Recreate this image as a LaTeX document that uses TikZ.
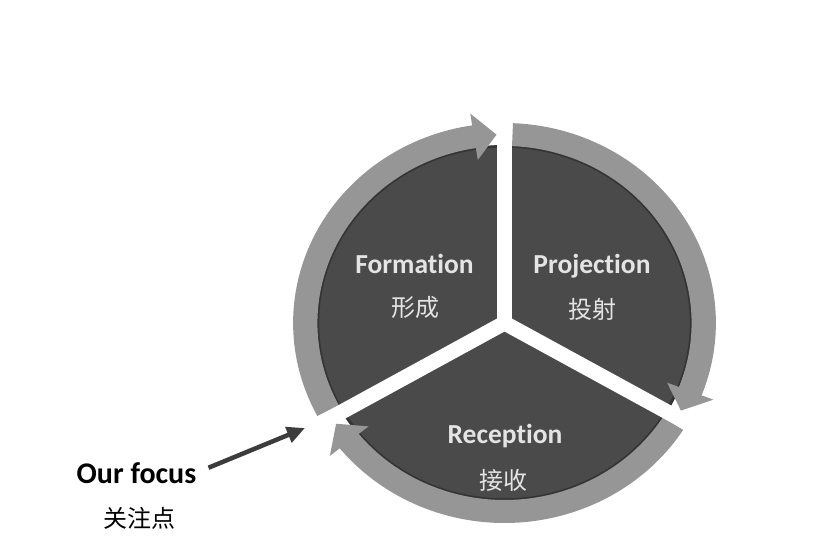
\documentclass[tikz,border=0pt]{standalone}
\usepackage{fontspec}
\setmainfont{Carlito}[Ligatures=CommonOff]
\newfontfamily\cjk{Noto Sans CJK SC}
\usetikzlibrary{arrows.meta}
\definecolor{sectorgray}{RGB}{74,74,74}
\definecolor{rimgray}{RGB}{52,52,52}
\definecolor{ringgray}{RGB}{150,150,150}
\definecolor{labelgray}{RGB}{228,228,228}
\definecolor{pointer}{RGB}{60,60,60}

\tikzset{
  stage/.style={font=\fontsize{27.5}{30}\selectfont\bfseries, text=labelgray, anchor=base, inner sep=0pt},
  stagecn/.style={font=\cjk\fontsize{24}{26}\selectfont, text=labelgray, inner sep=0pt},
  ringband/.style={fill=ringgray},
  gapline/.style={draw=white, line width=15pt},
}

% curved band with an arrowhead: start angle, head base angle, tip angle
\newcommand\cyclearrow[3]{%
  \fill[ringband] (#1:177pt) arc[start angle=#1, end angle=#2, radius=177pt]
    -- (#2:165pt) -- (#3:188.5pt) -- (#2:212pt) -- (#2:200pt)
    arc[start angle=#2, end angle=#1, radius=200pt] -- cycle;
}

\begin{document}
\begin{tikzpicture}[x=1pt,y=-1pt]
\useasboundingbox (0,0) rectangle (816,548);

\begin{scope}[shift={(504.5,323)}, xscale=1.057]
  % three stages as one disc, later split by white gaps
  \fill[sectorgray] (0,0) circle[radius=178pt];
  \draw[rimgray, line width=2.5pt] (0,0) circle[radius=176.5pt];
  % cycle arrows around the rim
  \cyclearrow{207.7}{98.8}{92.3}
  \cyclearrow{87.7}{-21.2}{-27.7}
  \cyclearrow{-32.3}{-141.2}{-147.7}
  % gaps between the stages
  \draw[gapline] (0,0) -- (90:235pt);
  \draw[gapline] (0,0) -- (-30:235pt);
  \draw[gapline] (0,0) -- (210:235pt);
\end{scope}

\node[stage] (formation) at (414.5,273) {Formation};
\node[stagecn] (formationcn) at (415,307) {形成};
\node[stage] (projection) at (592,273) {Projection};
\node[stagecn] (projectioncn) at (592.5,309) {投射};
\node[stage] (reception) at (505,443) {Reception};
\node[stagecn] (receptioncn) at (503,480) {接收};

\node[font=\fontsize{30}{32}\selectfont\bfseries, anchor=base, inner sep=0pt] (focus) at (136.5,483) {Our focus};
\node[font=\cjk\fontsize{24}{26}\selectfont, inner sep=0pt] (focuscn) at (139,518) {关注点};

\coordinate (gapmark) at (305,428);
\draw[pointer, line width=4.5pt, shorten <=13pt, -{Triangle[length=18pt,width=16pt]}] (focus.east) -- (gapmark);
\end{tikzpicture}
\end{document}
